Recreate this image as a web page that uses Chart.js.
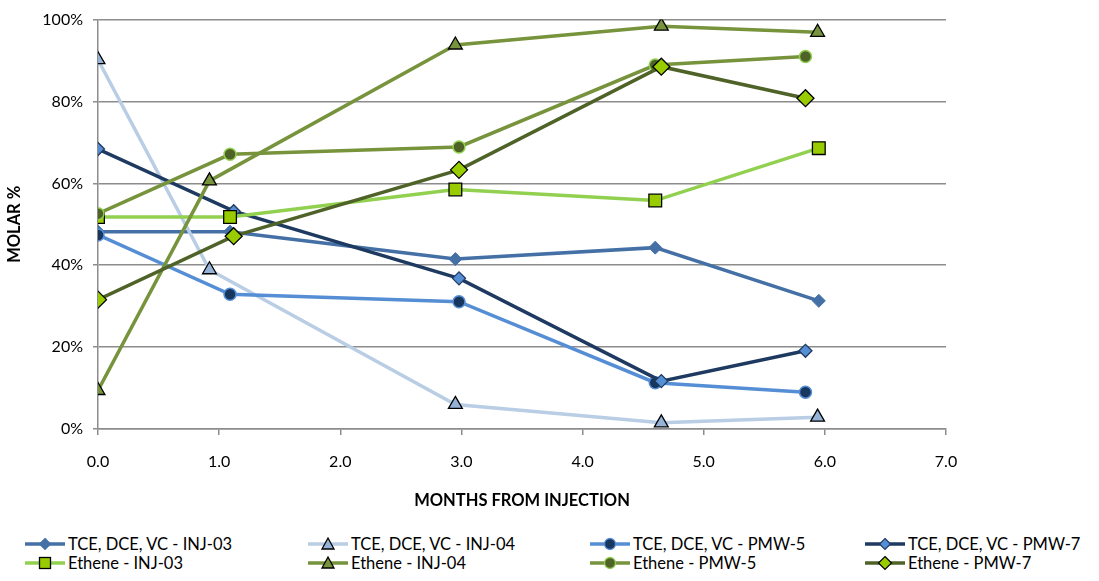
<!DOCTYPE html>
<html>
<head>
<meta charset="utf-8">
<script src="https://cdn.jsdelivr.net/npm/chart.js@4.4.1/dist/chart.umd.min.js"></script>
<style>
  body { margin: 0; background: #fff; }
  #wrap { position: relative; width: 1099px; height: 581px; }
  #legend { position: absolute; left: 0; top: 533px; width: 1099px; height: 48px; font-family: Lato, sans-serif; font-size: 16.5px; color: #000; }
  .item { position: absolute; height: 20px; display: flex; align-items: center; white-space: nowrap; }
  .item svg { margin-right: 3px; }
</style>
</head>
<body>
<div id="wrap">
  <canvas id="chart" width="1099" height="520"></canvas>
  <div id="legend"></div>
</div>
<script>
// x = months from injection, y = molar %
const tceInj03X = [0, 1.09, 2.95, 4.6, 5.95];
const tceInj03Y = [48.2, 48.2, 41.5, 44.3, 31.3];
const tceInj04X = [0, 0.92, 2.95, 4.65, 5.94];
const tceInj04Y = [90.2, 38.9, 6.0, 1.5, 2.9];
const tcePmw5X = [0, 1.09, 2.98, 4.6, 5.84];
const tcePmw5Y = [47.4, 32.9, 31.1, 11.3, 9.0];
const tcePmw7X = [0, 1.12, 2.98, 4.65, 5.84];
const tcePmw7Y = [68.4, 53.2, 36.8, 11.7, 19.1];
const ethInj03X = [0, 1.09, 2.95, 4.6, 5.95];
const ethInj03Y = [51.8, 51.8, 58.5, 55.8, 68.6];
const ethInj04X = [0, 0.92, 2.95, 4.65, 5.94];
const ethInj04Y = [9.4, 60.6, 93.8, 98.4, 96.9];
const ethPmw5X = [0, 1.09, 2.98, 4.6, 5.84];
const ethPmw5Y = [52.6, 67.1, 68.9, 88.9, 91.0];
const ethPmw7X = [0, 1.12, 2.98, 4.65, 5.84];
const ethPmw7Y = [31.6, 47.1, 63.3, 88.5, 80.8];

const xTicks = [0, 1, 2, 3, 4, 5, 6, 7];
const yTicks = [0, 20, 40, 60, 80, 100];

function pts(xs, ys) {
    return xs.map(function(x, i) { return { x: x, y: ys[i] }; });
}

const series = [
    { label: 'TCE, DCE, VC - INJ-03', data: pts(tceInj03X, tceInj03Y), line: '#4470A6', fill: '#4470A6', border: '#4470A6', style: 'rectRot', r: 6.5, bw: 1 },
    { label: 'TCE, DCE, VC - INJ-04', data: pts(tceInj04X, tceInj04Y), line: '#B9CDE5', fill: '#95B3D7', border: '#000000', style: 'triangle', r: 8, bw: 1.3 },
    { label: 'TCE, DCE, VC - PMW-5', data: pts(tcePmw5X, tcePmw5Y), line: '#558ED5', fill: '#17375E', border: '#558ED5', style: 'circle', r: 6, bw: 1.5 },
    { label: 'TCE, DCE, VC - PMW-7', data: pts(tcePmw7X, tcePmw7Y), line: '#1F3A60', fill: '#558ED5', border: '#1F3A60', style: 'rectRot', r: 6.5, bw: 1.3 },
    { label: 'Ethene - INJ-03', data: pts(ethInj03X, ethInj03Y), line: '#92D050', fill: '#99CC00', border: '#000000', style: 'rect', r: 9, bw: 1.3 },
    { label: 'Ethene - INJ-04', data: pts(ethInj04X, ethInj04Y), line: '#77933C', fill: '#77933C', border: '#000000', style: 'triangle', r: 8, bw: 1.3 },
    { label: 'Ethene - PMW-5', data: pts(ethPmw5X, ethPmw5Y), line: '#77933C', fill: '#4F6228', border: '#92D050', style: 'circle', r: 6, bw: 1.5 },
    { label: 'Ethene - PMW-7', data: pts(ethPmw7X, ethPmw7Y), line: '#4F6228', fill: '#99CC00', border: '#000000', style: 'rectRot', r: 8.5, bw: 1.3 }
];

const gridColor = '#8c8c8c';
const font = 'Lato';

new Chart(document.getElementById('chart'), {
    type: 'line',
    data: {
        datasets: series.map(function(s, i) {
            return {
                label: s.label,
                data: s.data,
                borderColor: s.line,
                borderWidth: 3.5,
                backgroundColor: s.line,
                pointStyle: s.style,
                pointRadius: s.r,
                pointBackgroundColor: s.fill,
                pointBorderColor: s.border,
                pointBorderWidth: s.bw,
                tension: 0,
                fill: false,
                order: series.length - i   // later series drawn on top, like Excel
            };
        })
    },
    options: {
        responsive: false,
        animation: false,
        layout: { padding: { top: 16, right: 153, left: 0, bottom: 0 } },
        plugins: {
            legend: { display: false },
            tooltip: { enabled: false }
        },
        scales: {
            x: {
                type: 'linear',
                min: 0,
                max: 7,
                afterFit: function(scale) { scale.height = 91; },
                afterBuildTicks: function(scale) { scale.ticks = xTicks.map(function(v) { return { value: v }; }); },
                ticks: {
                    color: '#000',
                    padding: 17,
                    font: { family: font, size: 16 },
                    callback: function(v) { return v.toFixed(1); }
                },
                grid: { drawOnChartArea: false, drawTicks: true, tickLength: 6, color: gridColor, lineWidth: 1.5 },
                border: { display: true, color: gridColor, width: 1.5 },
                title: {
                    display: true,
                    text: 'MONTHS FROM INJECTION',
                    color: '#000',
                    font: { family: font, size: 16.5, weight: 'bold' },
                    padding: { top: 0, bottom: 9 }
                }
            },
            y: {
                min: 0,
                max: 100,
                afterFit: function(scale) { scale.width = 98; },
                afterBuildTicks: function(scale) { scale.ticks = yTicks.map(function(v) { return { value: v }; }); },
                ticks: {
                    color: '#000',
                    padding: 10,
                    font: { family: font, size: 16 },
                    callback: function(v) { return v + '%'; }
                },
                grid: { color: gridColor, lineWidth: 1.5, tickLength: 5 },
                border: { display: true, color: gridColor, width: 1.5 },
                title: {
                    display: true,
                    text: 'MOLAR %',
                    color: '#000',
                    font: { family: font, size: 16.5, weight: 'bold' },
                    padding: { top: 5, bottom: 0 }
                }
            }
        }
    }
});

// legend in a 4-column grid like the original
const legendCols = [25, 308, 590, 865];
const legendRows = [534, 553];
const legend = document.getElementById('legend');

function markerSvg(s) {
    const cx = 20, cy = 10;
    let shape = '';
    if (s.style === 'circle') {
        shape = '<circle cx="' + cx + '" cy="' + cy + '" r="5.5" fill="' + s.fill + '" stroke="' + s.border + '" stroke-width="1.3"/>';
    } else if (s.style === 'rect') {
        shape = '<rect x="' + (cx - 5.5) + '" y="' + (cy - 5.5) + '" width="11" height="11" fill="' + s.fill + '" stroke="' + s.border + '" stroke-width="1.3"/>';
    } else if (s.style === 'triangle') {
        shape = '<polygon points="' + cx + ',' + (cy - 6) + ' ' + (cx + 6) + ',' + (cy + 5) + ' ' + (cx - 6) + ',' + (cy + 5) + '" fill="' + s.fill + '" stroke="' + s.border + '" stroke-width="1.3"/>';
    } else {
        const d = s.r > 7 ? 6.5 : 5.5;
        shape = '<polygon points="' + cx + ',' + (cy - d) + ' ' + (cx + d) + ',' + cy + ' ' + cx + ',' + (cy + d) + ' ' + (cx - d) + ',' + cy + '" fill="' + s.fill + '" stroke="' + s.border + '" stroke-width="1.2"/>';
    }
    return '<svg width="40" height="20"><line x1="0" y1="10" x2="40" y2="10" stroke="' + s.line + '" stroke-width="3.5"/>' + shape + '</svg>';
}

series.forEach(function(s, i) {
    const el = document.createElement('div');
    el.className = 'item';
    el.style.left = legendCols[i % 4] + 'px';
    el.style.top = (legendRows[Math.floor(i / 4)] - 533) + 'px';
    el.innerHTML = markerSvg(s) + '<span>' + s.label + '</span>';
    legend.appendChild(el);
});
</script>
</body>
</html>
